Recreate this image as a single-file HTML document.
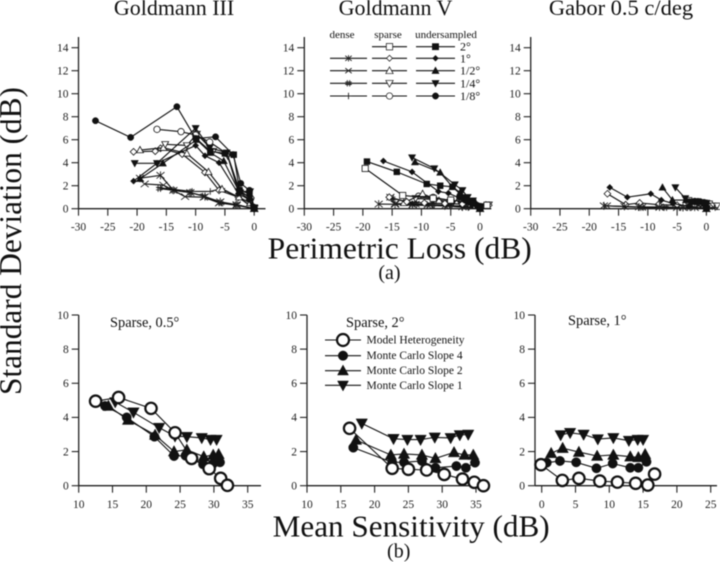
<!DOCTYPE html>
<html>
<head>
<meta charset="utf-8">
<title>Perimetric variability chart</title>
<style>
html,body{margin:0;padding:0;background:#fff;}
#chart{display:block;width:720px;height:562px;filter:blur(0.5px);}
text{font-family:"Liberation Serif",serif;fill:#111;}
</style>
</head>
<body>
<svg id="chart" xmlns="http://www.w3.org/2000/svg" width="720" height="562" viewBox="0 0 720 562">
<g id="axes"></g>
<g id="marks"></g>
<g id="legends"></g>
<text x="174" y="15" font-size="22" text-anchor="middle">Goldmann III</text>
<text x="395.5" y="15" font-size="22" text-anchor="middle">Goldmann V</text>
<text x="621" y="15" font-size="22.5" text-anchor="middle">Gabor 0.5 c/deg</text>
<text x="267.7" y="258.3" font-size="31" textLength="264" lengthAdjust="spacingAndGlyphs">Perimetric Loss (dB)</text>
<text x="389.5" y="279" font-size="20" text-anchor="middle">(a)</text>
<text x="272.7" y="536.7" font-size="31" textLength="277" lengthAdjust="spacingAndGlyphs">Mean Sensitivity (dB)</text>
<text x="398.7" y="557.5" font-size="20" text-anchor="middle">(b)</text>
<text transform="translate(21,395) rotate(-90)" font-size="31.5" textLength="308" lengthAdjust="spacingAndGlyphs">Standard Deviation (dB)</text>
<text x="110" y="327" font-size="14.4">Sparse, 0.5°</text>
<text x="346" y="327" font-size="14.4">Sparse, 2°</text>
<text x="568" y="325" font-size="14.4">Sparse, 1°</text>
</svg>
<script>
// Tick labels
const topXTicks = [-30, -25, -20, -15, -10, -5, 0];
const topYTicks = [0, 2, 4, 6, 8, 10, 12, 14];
const botXTicksHigh = [10, 15, 20, 25, 30, 35];
const botXTicksLow = [0, 5, 10, 15, 20, 25];
const botYTicks = [0, 2, 4, 6, 8, 10];

// Goldmann III
const g3U18x = [-27.1, -21.1, -13.2, -10, -6.6, -3.6, -2.3, -0.8, 0];
const g3U18y = [7.65, 6.2, 8.87, 6.1, 6.25, 4.7, 2.2, 1.6, 0.1];
const g3U14x = [-20.4, -16.6, -10, -7.6, -4.7, -2.7, -0.7, 0];
const g3U14y = [3.95, 3.95, 7, 5.3, 4.87, 1.5, 1.5, 0.1];
const g3U12x = [-19.5, -15.6, -9.8, -7.5, -5.2, -2.6, -0.7, 0];
const g3U12y = [2.6, 3.95, 6, 4.87, 4.15, 1.5, 1, 0.1];
const g3U1x = [-20.6, -16.6, -10, -8.4, -6, -2.7, -0.9, 0];
const g3U1y = [2.4, 3.95, 5.5, 4.6, 4, 1.3, 0.8, 0];
const g3U2x = [-9.9, -7.5, -5, -3.5, -2.5, -0.8, 0];
const g3U2y = [6.1, 5, 4.8, 4.7, 1.6, 1.3, 0];
const g3S18x = [-16.6, -12.5, -10, -7.6, -4.7, -2.5, -0.6, 0];
const g3S18y = [6.9, 6.7, 6.4, 5.8, 4.8, 1.6, 0.9, 0.1];
const g3S14x = [-15.2, -11.5, -9.8, -7, -4.5, -2.4, -0.6, 0];
const g3S14y = [5.6, 5.5, 6.5, 5, 4.6, 1.4, 0.7, 0.1];
const g3S12x = [-19.5, -15.5, -11.5, -7.8, -5.5, -2.6, -0.7, 0];
const g3S12y = [5.1, 5.3, 4.8, 3.2, 1.7, 1, 0.5, 0];
const g3S1x = [-20.6, -16.9, -16, -12.3, -8.4, -6, -2.7, 0];
const g3S1y = [4.95, 5, 5.25, 4.75, 3.15, 1.6, 1, 0];
const g3Dxx = [-18.7, -15.5, -11.8, -8.6, -6, -3, 0];
const g3Dxy = [2.15, 2.05, 1.05, 1, 0.5, 0.3, 0];
const g3Dsx = [-19.5, -16, -13.8, -10.9, -8.4, -5.8, -3, 0];
const g3Dsy = [2.65, 2.9, 1.6, 1.4, 1.05, 0.6, 0.35, 0];
const g3Dhx = [-16.2, -13.8, -10.9, -8.6, -5.8, -3, 0];
const g3Dhy = [1.75, 1.6, 1.4, 1.1, 0.5, 0.35, 0];
const g3Dpx = [-16, -10.6, -7.5, -5.5, -2.7, 0];
const g3Dpy = [1.8, 1.5, 1.5, 1.75, 1, 0];

// Goldmann V
const g5U2x = [-19.3, -14.2, -9.1, -6.8, -4.7, -2.3, -1.2, 0];
const g5U2y = [4.1, 3.2, 2.15, 2, 1.9, 0.75, 0.5, 0];
const g5U1x = [-16.5, -11.6, -7.1, -5.4, -2.9, -1.9, -1.2, 0];
const g5U1y = [4.15, 3.2, 1.5, 1.35, 0.8, 0.6, 0.4, 0];
const g5U14x = [-11.6, -7.8, -4.3, -3, -2.1, -1.2, 0];
const g5U14y = [4.45, 3.5, 2.1, 1.6, 1, 0.7, 0.1];
const g5U12x = [-11.1, -6.8, -4.7, -3.4, -2, -1, 0];
const g5U12y = [4.05, 3.15, 1.9, 1.4, 0.75, 0.5, 0.1];
const g5U18x = [-3.5, -2.8, -2.3, -2, -1.6, -1.3, -0.9, -0.5, 0];
const g5U18y = [1, 0.95, 0.85, 0.7, 0.6, 0.5, 0.45, 0.3, 0];
const g5S2x = [-19.6, -13.2, -8, -5, -1.2, 1.2];
const g5S2y = [3.5, 1.15, 0.9, 0.75, 0.5, 0.3];
const g5S1x = [-15.5, -12.5, -9.5, -6, -3, -1, 1.5];
const g5S1y = [1, 0.6, 0.5, 0.45, 0.4, 0.3, 0.3];
const g5S12x = [-13, -9.8, -7, -4, -1.5, 1];
const g5S12y = [0.5, 1.3, 0.7, 0.5, 0.4, 0.3];
const g5S14x = [-11, -8, -5, -2, 1.5];
const g5S14y = [0.9, 0.8, 0.6, 0.6, 0.35];
const g5S18x = [-10.5, -8, -5, -2, 1];
const g5S18y = [1.1, 1, 0.7, 0.5, 0.3];
const g5Dsx = [-17.3, -14.5, -11.5, -9, -6, -3, 0];
const g5Dsy = [0.4, 0.38, 0.35, 0.3, 0.25, 0.15, 0];
const g5Dxx = [-15.3, -14.5, -11, -8.5, -5.5, -2.5, 0];
const g5Dxy = [1, 0.45, 0.4, 0.3, 0.25, 0.15, 0];
const g5Dhx = [-15, -11, -8, -5, -2, 0];
const g5Dhy = [0.9, 0.4, 0.35, 0.3, 0.2, 0];
const g5Dpx = [-12, -8, -5, -2, 0];
const g5Dpy = [0.3, 0.3, 0.2, 0.1, 0];

// Gabor
const gbU1x = [-16.5, -13.5, -9.5, -7.7, -5.7, -3, 0];
const gbU1y = [1.85, 1, 1.3, 0.75, 0.45, 0.2, 0];
const gbU12x = [-7.5, -5.8, -3.5, -1.5, 0];
const gbU12y = [1.85, 0.75, 0.75, 0.6, 0.4];
const gbU14x = [-5.3, -3.6, -1.7, 0];
const gbU14y = [1.85, 0.9, 0.6, 0.5];
const gbU18x = [-2, -1.4, -1, -0.4, 0, 0];
const gbU18y = [0.65, 0.62, 0.6, 0.55, 0.5, 0.05];
const gbU2x = [-2.5, -1.5, 0];
const gbU2y = [0.6, 0.6, 0];
const gbS1x = [-16.9, -13.8, -11.4, -8.2, -5, -2, 0.5];
const gbS1y = [1.3, 0.35, 0.5, 0.35, 0.3, 0.25, 0.2];
const gbS2x = [-3, -1.5, 0.5, 2];
const gbS2y = [0.7, 0.6, 0.4, 0.2];
const gbS14x = [-1, 1, 1.8];
const gbS14y = [0.4, 0.25, 0.25];
const gbDsx = [-17.5, -14, -11.5, -8, -4, 0];
const gbDsy = [0.25, 0.2, 0.15, 0.15, 0.1, 0];
const gbDxx = [-17, -11, -8, -5, -2, 0];
const gbDxy = [0.25, 0.12, 0.12, 0.1, 0.1, 0];
const gbDhx = [-11, -7, -3, 0];
const gbDhy = [0.1, 0.1, 0.1, 0];
const gbDpx = [-8, -4, -2, 1.5];
const gbDpy = [0.12, 0.1, 0.08, 0.1];

// Sparse 0.5
const s05Mx = [12.5, 15.9, 20.7, 24.25, 26.7, 29.3, 31, 32];
const s05My = [4.95, 5.17, 4.53, 3.1, 1.6, 1, 0.43, 0.02];
const s05Cx = [13.9, 17.1, 21.2, 24.1, 25.8, 28.4, 29.9, 30.9];
const s05Cy = [4.67, 4, 2.87, 1.74, 1.76, 1.25, 1.3, 1.37];
const s05Ux = [14.4, 17.3, 21.3, 24.1, 26, 28.5, 29.9, 30.7];
const s05Uy = [4.67, 3.85, 2.97, 2, 2.1, 1.7, 1.8, 1.84];
const s05Dx = [15.4, 18.1, 21.9, 24.25, 26, 28.2, 29.5, 30.4];
const s05Dy = [4.9, 4.3, 3.4, 2.9, 2.87, 2.8, 2.7, 2.7];

// Sparse 2
const s2Mx = [16.3, 22.6, 25, 27.7, 30.3, 33, 34.75, 36.1];
const s2My = [3.36, 1.02, 0.96, 0.92, 0.66, 0.39, 0.2, 0];
const s2Cx = [16.85, 22.6, 24.35, 27, 29, 32.1, 33.5, 34.85];
const s2Cy = [2.23, 1.37, 1.37, 1.45, 1.05, 1.15, 1.05, 1.35];
const s2Ux = [17.25, 22.4, 24.35, 27, 29, 31.75, 33.3, 34.6];
const s2Uy = [2.68, 1.8, 1.86, 1.8, 1.6, 1.95, 1.8, 1.8];
const s2Dx = [18.1, 22.8, 24.85, 26.8, 28.9, 31.25, 32.6, 33.85];
const s2Dy = [3.65, 2.75, 2.7, 2.7, 2.83, 2.8, 2.97, 3];

// Sparse 1
const s1Mx = [-0.1, 3.05, 5.5, 8.6, 11.2, 13.9, 15.7, 16.7];
const s1My = [1.23, 0.31, 0.43, 0.27, 0.21, 0.14, 0.04, 0.68];
const s1Cx = [0.75, 2.7, 5.1, 8.1, 10.5, 13.1, 14.3, 15.5];
const s1Cy = [1.35, 1.45, 1.37, 1.02, 1.3, 1.05, 1.05, 1.4];
const s1Ux = [1.4, 3.1, 5.5, 8.2, 10.6, 13.1, 14.3, 15.3];
const s1Uy = [1.9, 2.2, 1.97, 1.74, 1.8, 1.7, 1.66, 1.84];
const s1Dx = [2.8, 4.2, 6.2, 8.3, 10.6, 12.9, 14.2, 15];
const s1Dy = [2.97, 3.1, 3, 2.73, 2.8, 2.64, 2.7, 2.7];

const SVGNS = 'http://www.w3.org/2000/svg';
const INK = '#111';
function mk(parent, tag, attrs) {
  const el = document.createElementNS(SVGNS, tag);
  for (const k in attrs) el.setAttribute(k, attrs[k]);
  parent.appendChild(el);
  return el;
}
function linear(d0, d1, r0, r1) {
  return function (v) { return r0 + (v - d0) * (r1 - r0) / (d1 - d0); };
}

// Marker vocabulary: s is the half-size in pixels
function marker(parent, shape, px, py, s, sw) {
  const open = shape.indexOf('open') === 0;
  const kind = shape.replace('open-', '');
  const st = { fill: open ? '#fff' : INK, stroke: INK, 'stroke-width': open ? sw : 0.4 };
  let el;
  if (kind === 'circle') { el = mk(parent, 'circle', Object.assign({ cx: px, cy: py, r: s }, st)); }
  else if (kind === 'square') { el = mk(parent, 'rect', Object.assign({ x: px - s, y: py - s, width: 2 * s, height: 2 * s }, st)); }
  else if (kind === 'diamond') { el = mk(parent, 'polygon', Object.assign({ points: [px, py - s * 1.2, px + s * 1.2, py, px, py + s * 1.2, px - s * 1.2, py].join(' ') }, st)); }
  else if (kind === 'up') { el = mk(parent, 'polygon', Object.assign({ points: [px, py - s * 1.2, px + s * 1.15, py + s * 0.9, px - s * 1.15, py + s * 0.9].join(' ') }, st)); }
  else if (kind === 'down') { el = mk(parent, 'polygon', Object.assign({ points: [px, py + s * 1.2, px + s * 1.15, py - s * 0.9, px - s * 1.15, py - s * 0.9].join(' ') }, st)); }
  else {
    let d = '';
    const r = s;
    if (kind === 'x' || kind === 'star') d += 'M' + (px - r) + ' ' + (py - r * 0.8) + 'L' + (px + r) + ' ' + (py + r * 0.8) + 'M' + (px - r) + ' ' + (py + r * 0.8) + 'L' + (px + r) + ' ' + (py - r * 0.8);
    if (kind === 'star') d += 'M' + px + ' ' + (py - r) + 'L' + px + ' ' + (py + r);
    if (kind === 'plus') d += 'M' + px + ' ' + (py - r) + 'L' + px + ' ' + (py + r) + 'M' + (px - r) + ' ' + py + 'L' + (px + r) + ' ' + py;
    if (kind === 'hash') d += 'M' + (px - 1.2) + ' ' + (py - r) + 'V' + (py + r) + 'M' + (px + 1.2) + ' ' + (py - r) + 'V' + (py + r) + 'M' + (px - r) + ' ' + (py - 1.2) + 'H' + (px + r) + 'M' + (px - r) + ' ' + (py + 1.2) + 'H' + (px + r);
    el = mk(parent, 'path', { d: d, fill: 'none', stroke: '#222', 'stroke-width': 0.9 });
  }
  return el;
}

function drawAxes(cfg) {
  const g = mk(document.getElementById('axes'), 'g', {});
  
  
  const yAxis = mk(g, 'line', { x1: cfg.yAxisX, x2: cfg.yAxisX, y1: cfg.axisTop, y2: cfg.yr0, stroke: '#222', 'stroke-width': 1.3 });
  
  
  const xAxis = mk(g, 'line', { x1: cfg.yAxisX, x2: cfg.axisRight, y1: cfg.yr0, y2: cfg.yr0, stroke: '#222', 'stroke-width': 1.3 });
  
  
  cfg.xTicks.forEach(function (t) {
    const px = cfg.sx(t);
    mk(g, 'line', { x1: px, x2: px, y1: cfg.yr0, y2: cfg.yr0 + 7, stroke: '#222', 'stroke-width': 1.1 });
    const lab = mk(g, 'text', { x: px, y: cfg.xLabelY, 'font-size': 11.5, 'text-anchor': 'middle', style: 'fill:#222' });
    lab.textContent = t;
    
    
  });
  cfg.yTicks.forEach(function (t) {
    const py = cfg.sy(t);
    mk(g, 'line', { x1: cfg.yAxisX - 7, x2: cfg.yAxisX, y1: py, y2: py, stroke: '#222', 'stroke-width': 1.1 });
    const lab = mk(g, 'text', { x: cfg.yAxisX - 10, y: py + 3.8, 'font-size': 11.5, 'text-anchor': 'end', style: 'fill:#222' });
    lab.textContent = t;
    
    
  });
}

function drawSeries(cfg, label, shape, xs, ys, s, lw, msw) {
  const g = mk(document.getElementById('marks'), 'g', {});
  
  
  const pts = xs.map(function (x, i) { return cfg.sx(x) + ',' + cfg.sy(ys[i]); }).join(' ');
  mk(g, 'polyline', { points: pts, fill: 'none', stroke: INK, 'stroke-width': lw });
  xs.forEach(function (x, i) { marker(g, shape, cfg.sx(x), cfg.sy(ys[i]), s, msw); });
}

function topPanel(name, x0px) {
  return {
    name: name, yAxisX: x0px, axisTop: 37, axisRight: x0px + 187, yr0: 208.7,
    sx: linear(-30, 0, x0px, x0px + 175.7), sy: linear(0, 14, 208.7, 47.7),
    xTicks: topXTicks, yTicks: topYTicks, xLabelY: 230.5
  };
}
function botPanel(name, xTicks, d0, d1, r0, r1, yAxisX, axisRight) {
  return {
    name: name, yAxisX: yAxisX, axisTop: 315, axisRight: axisRight, yr0: 485.7,
    sx: linear(d0, d1, r0, r1), sy: linear(0, 10, 485.7, 315),
    xTicks: xTicks, yTicks: botYTicks, xLabelY: 508
  };
}

const P1 = topPanel('goldmann-iii', 78.5);
const P2 = topPanel('goldmann-v', 304.3);
const P3 = topPanel('gabor', 530.7);
const P4 = botPanel('sparse-0-5', botXTicksHigh, 10, 35, 78.7, 247.7, 78.7, 261);
const P5 = botPanel('sparse-2', botXTicksHigh, 10, 35, 307, 476, 307, 490);
const P6 = botPanel('sparse-1', botXTicksLow, 0, 25, 541.7, 710.7, 535, 717);
[P1, P2, P3, P4, P5, P6].forEach(drawAxes);

function t(cfg, label, shape, xs, ys, s) { drawSeries(cfg, label, shape, xs, ys, s || 3.2, 1.15, 0.8); }
function b(cfg, label, shape, xs, ys, s) { drawSeries(cfg, label, shape, xs, ys, s, 1.1, 2.2); }

// Goldmann III series
t(P1, 'dense-1-2', 'x', g3Dxx, g3Dxy, 4);
t(P1, 'dense-1', 'star', g3Dsx, g3Dsy, 4);
t(P1, 'dense-1-4', 'hash', g3Dhx, g3Dhy, 3.3);
t(P1, 'dense-1-8', 'plus', g3Dpx, g3Dpy, 3.3);
t(P1, 'sparse-1', 'open-diamond', g3S1x, g3S1y, 2.8);
t(P1, 'sparse-1-2', 'open-up', g3S12x, g3S12y, 3);
t(P1, 'sparse-1-4', 'open-down', g3S14x, g3S14y, 3);
t(P1, 'sparse-1-8', 'open-circle', g3S18x, g3S18y, 3.2);
t(P1, 'under-2', 'square', g3U2x, g3U2y, 3);
t(P1, 'under-1', 'diamond', g3U1x, g3U1y, 2.6);
t(P1, 'under-1-2', 'up', g3U12x, g3U12y, 3.2);
t(P1, 'under-1-4', 'down', g3U14x, g3U14y, 3.2);
t(P1, 'under-1-8', 'circle', g3U18x, g3U18y, 3.2);

// Goldmann V series
t(P2, 'dense-1', 'star', g5Dsx, g5Dsy, 4);
t(P2, 'dense-1-2', 'x', g5Dxx, g5Dxy, 4);
t(P2, 'dense-1-4', 'hash', g5Dhx, g5Dhy, 3.3);
t(P2, 'dense-1-8', 'plus', g5Dpx, g5Dpy, 3.3);
t(P2, 'sparse-1-8', 'open-circle', g5S18x, g5S18y, 3);
t(P2, 'sparse-1-4', 'open-down', g5S14x, g5S14y, 3);
t(P2, 'sparse-1-2', 'open-up', g5S12x, g5S12y, 3);
t(P2, 'sparse-1', 'open-diamond', g5S1x, g5S1y, 2.8);
t(P2, 'sparse-2', 'open-square', g5S2x, g5S2y, 3.1);
t(P2, 'under-1-8', 'circle', g5U18x, g5U18y, 3.2);
t(P2, 'under-1-2', 'up', g5U12x, g5U12y, 3.2);
t(P2, 'under-1-4', 'down', g5U14x, g5U14y, 3.2);
t(P2, 'under-1', 'diamond', g5U1x, g5U1y, 2.6);
t(P2, 'under-2', 'square', g5U2x, g5U2y, 3);

// Gabor series
t(P3, 'sparse-2', 'open-square', gbS2x, gbS2y, 3.1);
t(P3, 'sparse-1-4', 'open-down', gbS14x, gbS14y, 3);
t(P3, 'sparse-1', 'open-diamond', gbS1x, gbS1y, 2.8);
t(P3, 'dense-1', 'star', gbDsx, gbDsy, 4);
t(P3, 'dense-1-2', 'x', gbDxx, gbDxy, 4);
t(P3, 'dense-1-4', 'hash', gbDhx, gbDhy, 3.3);
t(P3, 'dense-1-8', 'plus', gbDpx, gbDpy, 3.3);
t(P3, 'under-1', 'diamond', gbU1x, gbU1y, 2.6);
t(P3, 'under-1-2', 'up', gbU12x, gbU12y, 3.2);
t(P3, 'under-1-4', 'down', gbU14x, gbU14y, 3.2);
t(P3, 'under-1-8', 'circle', gbU18x, gbU18y, 3.2);
t(P3, 'under-2', 'square', gbU2x, gbU2y, 3);

// Lower panels
b(P4, 'slope-1', 'down', s05Dx, s05Dy, 5);
b(P4, 'slope-2', 'up', s05Ux, s05Uy, 5);
b(P4, 'slope-4', 'circle', s05Cx, s05Cy, 4.7);
b(P4, 'model', 'open-circle', s05Mx, s05My, 5.7);
b(P5, 'slope-1', 'down', s2Dx, s2Dy, 5);
b(P5, 'slope-2', 'up', s2Ux, s2Uy, 5);
b(P5, 'slope-4', 'circle', s2Cx, s2Cy, 4.7);
b(P5, 'model', 'open-circle', s2Mx, s2My, 5.7);
b(P6, 'slope-1', 'down', s1Dx, s1Dy, 5);
b(P6, 'slope-2', 'up', s1Ux, s1Uy, 5);
b(P6, 'slope-4', 'circle', s1Cx, s1Cy, 4.7);
b(P6, 'model', 'open-circle', s1Mx, s1My, 5.7);

// Top legend
const legendRowLabels = ['2°', '1°', '1/2°', '1/4°', '1/8°'];
const legendDense = ['', 'star', 'x', 'hash', 'plus'];
const legendSparse = ['open-square', 'open-diamond', 'open-up', 'open-down', 'open-circle'];
const legendUnder = ['square', 'diamond', 'up', 'down', 'circle'];
const legendHeaders = ['dense', 'sparse', 'undersampled'];
(function () {
  const layer = document.getElementById('legends');
  const g = mk(layer, 'g', {});
  
  
  const hx = [342, 388, 446];
  legendHeaders.forEach(function (h, i) {
    const el = mk(g, 'text', { x: hx[i], y: 38, 'font-size': 11, 'text-anchor': 'middle' });
    el.textContent = h;
    
    
  });
  const rows = [46.7, 58.3, 70.7, 83.3, 96];
  const cols = [[330, 367, 348.5, legendDense], [372, 407, 389.5, legendSparse], [416, 455, 435.5, legendUnder]];
  rows.forEach(function (y, r) {
    cols.forEach(function (c) {
      if (!c[3][r]) return;
      const e = mk(g, 'g', {});
      
      
      mk(e, 'line', { x1: c[0], x2: c[1], y1: y, y2: y, stroke: INK, 'stroke-width': 1.1 });
      marker(e, c[3][r], c[2], y, c[3][r].indexOf('diamond') >= 0 ? 2.5 : 3.2, 0.7);
    });
    const l = mk(g, 'text', { x: 460, y: y + 4, 'font-size': 12 });
    l.textContent = legendRowLabels[r];
    
    
  });
})();

// Lower legend
const modelLegendLabels = ['Model Heterogeneity', 'Monte Carlo Slope 4', 'Monte Carlo Slope 2', 'Monte Carlo Slope 1'];
const modelLegendShapes = ['open-circle', 'circle', 'up', 'down'];
(function () {
  const layer = document.getElementById('legends');
  const g = mk(layer, 'g', {});
  
  
  const rows = [340, 355.7, 370.7, 385.3];
  rows.forEach(function (y, i) {
    const e = mk(g, 'g', {});
    
    
    mk(e, 'line', { x1: 325, x2: 361, y1: y, y2: y, stroke: INK, 'stroke-width': 1.1 });
    marker(e, modelLegendShapes[i], 343, y, i === 0 ? 6 : 4.8, 2.2);
    const l = mk(e, 'text', { x: 366.5, y: y + 3.5, 'font-size': 11.5 });
    l.textContent = modelLegendLabels[i];
    
    
  });
})();
</script>
</body>
</html>
